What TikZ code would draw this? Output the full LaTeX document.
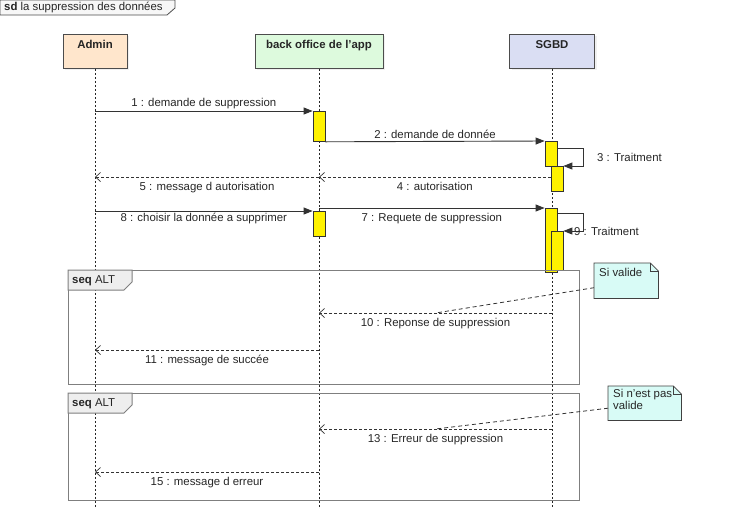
\documentclass[tikz,border=0pt]{standalone}
\usepackage{fontspec}
\setmainfont{Liberation Sans}
\usetikzlibrary{arrows.meta,calc,shadows}
\definecolor{adminfill}{HTML}{FFE6CC}
\definecolor{appfill}{HTML}{DDFADD}
\definecolor{dbfill}{HTML}{DADEF3}
\definecolor{notefill}{HTML}{D8FBF6}
\definecolor{linegray}{HTML}{333333}
\definecolor{framegray}{HTML}{7F7F7F}
\definecolor{tabfill}{HTML}{EEEEEE}
\begin{document}
\begin{tikzpicture}[x=1pt,y=-1pt,
	font=\fontsize{11.4}{13.5}\selectfont,
	every node/.append style={text=black!85},
	head/.style={draw=black!70,line width=0.8pt,anchor=north,inner xsep=0pt,inner ysep=3pt,
		text height=11pt,text depth=17pt,minimum height=34pt,font=\fontsize{11.4}{13.5}\selectfont\bfseries,
		drop shadow={opacity=0.12,shadow xshift=2pt,shadow yshift=-2pt}},
	lifeline/.style={black!85,line width=0.7pt,dash pattern=on 2pt off 2pt},
	act/.style={draw=black!80,fill=yellow,line width=0.8pt,minimum width=12pt,inner sep=0pt,anchor=north},
	sync/.style={linegray,line width=0.9pt,-{Triangle[length=9pt,width=7pt]}},
	reply/.style={linegray,line width=0.7pt,dash pattern=on 3pt off 2pt,-{Straight Barb[length=5pt,width=9pt]}},
	lbl/.style={inner sep=2pt},
	lblb/.style={below,inner sep=4.5pt},
	frame/.style={draw=framegray,line width=1pt,anchor=north west,inner sep=0pt},
	notebox/.style={anchor=north west,inner sep=0pt},
	notetext/.style={anchor=north west,inner sep=0pt,align=left,font=\fontsize{11.4}{12}\selectfont},
	noteline/.style={linegray,line width=0.8pt,dash pattern=on 4pt off 3pt}]
	\useasboundingbox (0,0) rectangle (741,507);
	%diagram tab
	\filldraw[draw=black!70,fill=black!3,line width=0.8pt] (0,0) -- (175,0) -- (175,8) -- (167,15) -- (0,15) -- cycle;
	\node[anchor=base west,inner sep=0pt] (title) at (4,10) {\textbf{sd} la suppression des données};
	%lifelines
	\node[head,fill=adminfill,minimum width=64pt] (admin) at (95,34) {Admin};
	\node[head,fill=appfill,minimum width=128pt] (app) at (319,34) {back office de l'app};
	\node[head,fill=dbfill,minimum width=85pt] (sgbd) at (552,34) {SGBD};
	\coordinate (bottom) at (0,507);
	\foreach \n/\y in {r4/177,r10/313,r11/350,r13/429,r15/472} \coordinate (\n) at (0,\y);
	\foreach \h in {admin,app,sgbd} \draw[lifeline] (\h.south) -- (\h |- bottom);
	%activations
	\node[act,minimum height=30pt] (act1) at (319,111) {};
	\node[act,minimum height=25pt] (act2) at (319,211) {};
	\node[act,minimum height=25pt] (sgA) at (551,141) {};
	\node[act,minimum height=25pt] (sgB) at (557,166) {};
	\node[act,minimum height=64pt] (sgC) at (551,208) {};
	\node[act,minimum height=39pt] (sgD) at (557,231) {};
	%messages
	\draw[sync] (act1.north west -| admin) -- (act1.north west) node[midway,above,lbl]{1 : demande de suppression};
	\draw[sync] (act1.south east) -- (sgA.north west) node[midway,above,lbl]{2 : demande de donnée};
	\draw[sync] ($(sgA.north east)+(0,7)$) -- ++(26,0) -- ++(0,18) node[midway,right,xshift=10pt]{3 : Traitment} -- (sgB.north east);
	\draw[reply] (sgB.west |- r4) -- (app |- r4) node[midway,lblb]{4 : autorisation};
	\draw[reply] (app |- r4) -- (admin |- r4) node[midway,lblb]{5 : message d autorisation};
	\draw[sync] (act2.north west -| admin) -- (act2.north west) node[midway,below,inner sep=1.5pt]{8 : choisir la donnée a supprimer};
	\draw[sync] (sgC.north west -| app) -- (sgC.north west) node[midway,lblb]{7 : Requete de suppression};
	\draw[sync] ($(sgC.north east)+(0,5)$) -- ++(26,0) -- ++(0,18) -- (sgD.north east) node[right,xshift=7pt]{9 : Traitment};
	%alt frames
	\node[frame,minimum width=511pt,minimum height=114pt] (alt1) at (68,270) {};
	\node[frame,minimum width=511pt,minimum height=107pt] (alt2) at (68,393) {};
	\foreach \f in {alt1,alt2} {
		\filldraw[draw=framegray,fill=tabfill,line width=1pt] (\f.north west) -- ++(64,0) -- ++(0,12) -- ++(-8,8) -- ++(-56,0) -- cycle;
		\node[anchor=base west,inner sep=0pt] at ($(\f.north west)+(4,13)$) {\textbf{seq} ALT};
	}
	%notes
	\node[notebox,minimum width=64pt,minimum height=35pt] (n1) at (594,263) {};
	\node[notebox,minimum width=73pt,minimum height=34pt] (n2) at (608,386) {};
	\foreach \n in {n1,n2} {
		\filldraw[draw=black!75,fill=notefill,line width=0.8pt] (\n.north west) -- ($(\n.north east)+(-8,0)$) -- ($(\n.north east)+(0,8)$) -- (\n.south east) -- (\n.south west) -- cycle;
		\draw[black!75,line width=0.8pt] ($(\n.north east)+(-8,0)$) -- ($(\n.north east)+(-8,8)$) -- ($(\n.north east)+(0,8)$);
	}
	\node[notetext] at ($(n1.north west)+(5,5)$) {Si valide};
	\node[notetext] at ($(n2.north west)+(5,3)$) {Si n'est pas\\valide};
	%replies
	\draw[reply] (sgbd |- r10) -- (app |- r10) coordinate[pos=0.5] (c10) node[midway,lblb]{10 : Reponse de suppression};
	\draw[noteline] ($(n1.west)+(0,7)$) -- (c10);
	\draw[reply] (app |- r11) -- (admin |- r11) node[midway,lblb]{11 : message de succée};
	\draw[reply] (sgbd |- r13) -- (app |- r13) coordinate[pos=0.5] (c13) node[midway,lblb]{13 : Erreur de suppression};
	\draw[noteline] ($(n2.west)+(0,5)$) -- (c13);
	\draw[reply] (app |- r15) -- (admin |- r15) node[midway,lblb]{15 : message d erreur};
\end{tikzpicture}
\end{document}
